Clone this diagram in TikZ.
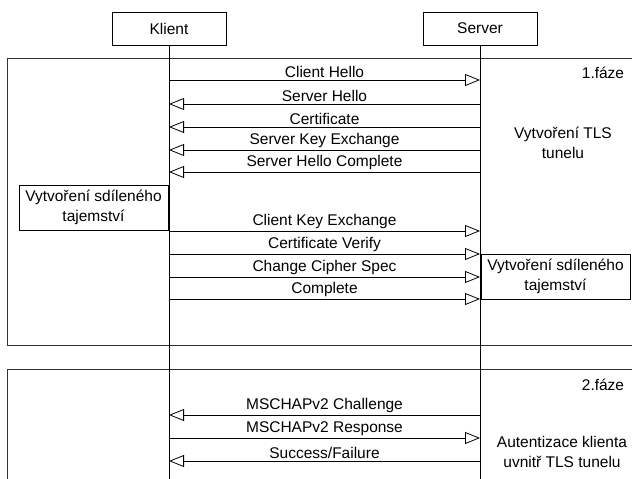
\documentclass[tikz,border=0pt]{standalone}
\usepackage{fontspec}
\setmainfont{Liberation Sans}
\usetikzlibrary{arrows.meta}

\tikzset{
  party/.style={draw, minimum width=114pt, minimum height=33pt, inner sep=0pt},
  note/.style={align=center, inner sep=0pt},
  notebox/.style={draw, align=center, minimum width=149pt, minimum height=45pt, inner sep=0pt},
  msg/.style={-{Triangle[open,length=15pt,width=12pt]}},
  lbl/.style={midway, above, inner sep=1.5pt},
  phase/.style={draw=black!80},
}

\begin{document}
\begin{tikzpicture}[x=1pt, y=-1pt, line width=0.8pt,
        font=\fontsize{15.5}{20}\selectfont]
    \useasboundingbox (0,0) rectangle (632,479);
    % faze
    \draw[phase] (632,58) -- (7,58) -- (7,345) -- (632,345);
    \draw[phase] (632,369) -- (7,369) -- (7,479);
    % ucastnici
    \node[party] (klient) at (169,28.5) {Klient};
    \node[party] (server) at (480,28.5) {Server};
    \coordinate (kend) at (169,479);
    \coordinate (send) at (480,479);
    \draw (klient.south) -- (kend);
    \draw (server.south) -- (send);
    \foreach \y [count=\i] in {80,104,127,150,172,231,254,277,299,415,438,461}{
        \coordinate (k\i) at (169,\y);
        \coordinate (s\i) at (480,\y);
    }
    % 1. faze
    \draw[msg] (k1) -- node[lbl] {Client Hello} (s1);
    \draw[msg] (s2) -- node[lbl] {Server Hello} (k2);
    \draw[msg] (s3) -- node[lbl] {Certificate} (k3);
    \draw[msg] (s4) -- node[lbl] {Server Key Exchange} (k4);
    \draw[msg] (s5) -- node[lbl] {Server Hello Complete} (k5);
    \draw[msg] (k6) -- node[lbl] {Client Key Exchange} (s6);
    \draw[msg] (k7) -- node[lbl] {Certificate Verify} (s7);
    \draw[msg] (k8) -- node[lbl] {Change Cipher Spec} (s8);
    \draw[msg] (k9) -- node[lbl] {Complete} (s9);
    \node[notebox] (tajk) at (93.5,207.5) {Vytvoření sdíleného\\tajemství};
    \node[notebox] (tajs) at (555.5,276.5) {Vytvoření sdíleného\\tajemství};
    \node[note] (faze1) at (603,73) {1.fáze};
    \node[note] (tunel) at (563,143) {Vytvoření TLS\\tunelu};
    % 2. faze
    \draw[msg] (s10) -- node[lbl] {MSCHAPv2 Challenge} (k10);
    \draw[msg] (k11) -- node[lbl] {MSCHAPv2 Response} (s11);
    \draw[msg] (s12) -- node[lbl] {Success/Failure} (k12);
    \node[note] (faze2) at (603,385) {2.fáze};
    \node[note] (auth) at (562,452) {Autentizace klienta\\uvnitř TLS tunelu};
\end{tikzpicture}
\end{document}
